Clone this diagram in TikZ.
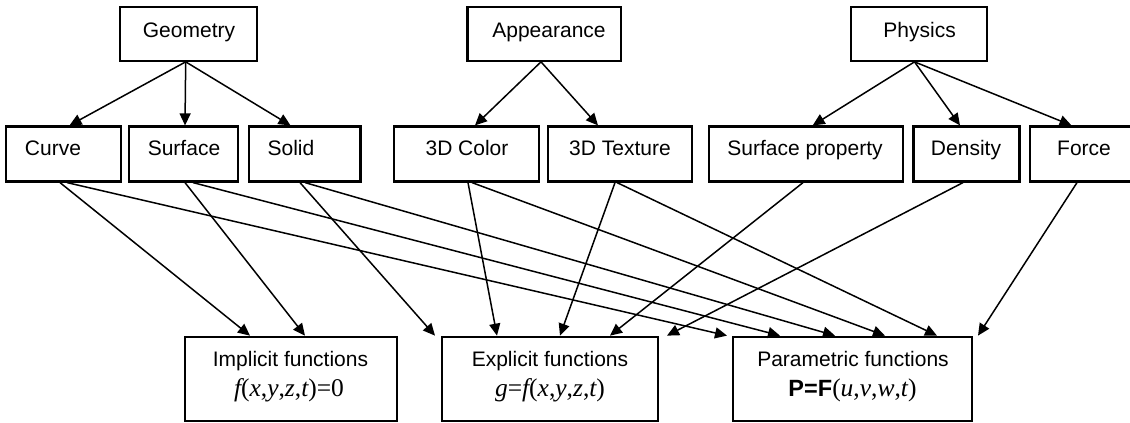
\documentclass[tikz,border=0pt]{standalone}
\usepackage{fontspec}
\setmainfont{Liberation Sans}
\newfontfamily\tmsfont{Liberation Serif}
\usetikzlibrary{arrows.meta}
\begin{document}
\begin{tikzpicture}[x=1pt,y=-1pt,
  box/.style={draw, line width=2.2pt, inner sep=0pt},
  lbl/.style={font=\fontsize{21}{25}\selectfont, inner sep=0pt, anchor=base},
  arr/.style={line width=1.5pt, -{Triangle[length=12pt,width=11pt]}}]
\useasboundingbox (0,0) rectangle (1130,423);
\clip (0,0) rectangle (1130,423);

% top level categories
\node[box, minimum width=137.3pt, minimum height=53.5pt] (geo) at (188.7,34) {};
\node[box, minimum width=153.5pt, minimum height=53.5pt] (app) at (544.3,34) {};
\node[box, minimum width=136pt, minimum height=53.5pt] (phy) at (919,34) {};
\node[lbl] (geo-t) at (189,37.3) {Geometry};
\node[lbl] (app-t) at (549,37.3) {Appearance};
\node[lbl] (phy-t) at (919.6,37.3) {Physics};

% second level
\node[box, minimum width=114.3pt, minimum height=55pt] (curve) at (63.5,154) {};
\node[box, minimum width=109pt, minimum height=55pt] (surf) at (183.8,154) {};
\node[box, minimum width=111.5pt, minimum height=55pt] (solid) at (304.8,154) {};
\node[box, minimum width=145.3pt, minimum height=55pt] (col) at (466.7,154) {};
\node[box, minimum width=143.6pt, minimum height=55pt] (tex) at (619.8,154) {};
\node[box, minimum width=194pt, minimum height=55pt] (sprop) at (806,154) {};
\node[box, minimum width=106pt, minimum height=55pt] (dens) at (966.5,154) {};
\node[box, minimum width=110pt, minimum height=55pt] (force) at (1085,154) {};
\node[lbl] (curve-t) at (53,155.5) {Curve};
\node[lbl] (surf-t) at (184,155.5) {Surface};
\node[lbl] (solid-t) at (291,155.5) {Solid};
\node[lbl] (col-t) at (467,155.5) {3D Color};
\node[lbl] (tex-t) at (620,155.5) {3D Texture};
\node[lbl] (sprop-t) at (805,155.5) {Surface property};
\node[lbl] (dens-t) at (966,155.5) {Density};
\node[lbl] (force-t) at (1084,155.5) {Force};

% function representations
\node[box, minimum width=212pt, minimum height=84.5pt] (impl) at (291,379) {};
\node[box, minimum width=216pt, minimum height=84.5pt] (expl) at (550,379) {};
\node[box, minimum width=239pt, minimum height=84.5pt] (par) at (852.5,379) {};
\node[lbl] (impl-t) at (290.5,366) {Implicit functions};
\node[lbl] (expl-t) at (550,366) {Explicit functions};
\node[lbl] (par-t) at (853,366) {Parametric functions};
\node[inner sep=0pt, anchor=base] (impl-f) at (289,396)
  {\tmsfont\fontsize{25.5}{30}\selectfont{\itshape f}({\itshape x},{\itshape y},{\itshape z},{\itshape t})=0};
\node[inner sep=0pt, anchor=base] (expl-f) at (550,396)
  {\tmsfont\fontsize{25.5}{30}\selectfont{\itshape g}={\itshape f}({\itshape x},{\itshape y},{\itshape z},{\itshape t})};
\node[inner sep=0pt, anchor=base] (par-f) at (852.5,396)
  {{\bfseries\fontsize{23.5}{28}\selectfont P=F}{\tmsfont\fontsize{25.5}{30}\selectfont({\itshape u},{\itshape v},{\itshape w},{\itshape t})}};

% category -> subcategory
\draw[arr] ([xshift=-3pt]geo.south) -- ([xshift=6pt]curve.north);
\draw[arr] ([xshift=-3pt]geo.south) -- ([xshift=1.2pt]surf.north);
\draw[arr] ([xshift=-3pt]geo.south) -- ([xshift=-14.3pt]solid.north);
\draw[arr] ([xshift=-3.3pt]app.south) -- ([xshift=8.3pt]col.north);
\draw[arr] ([xshift=-3.3pt]app.south) -- ([xshift=-21.8pt]tex.north);
\draw[arr] ([xshift=-4.5pt]phy.south) -- ([xshift=6.7pt]sprop.north);
\draw[arr] ([xshift=-4.5pt]phy.south) -- ([xshift=-6.5pt]dens.north);
\draw[arr] ([xshift=-4.5pt]phy.south) -- ([xshift=-13.5pt]force.north);

% subcategory -> function type
\draw[arr] ([xshift=-3.5pt]curve.south) -- ([xshift=-41pt]impl.north);
\draw[arr] ([xshift=3.5pt]curve.south) -- ([xshift=-125.5pt]par.north);
\draw[arr] ([xshift=1.2pt]surf.south) -- ([xshift=14pt]impl.north);
\draw[arr] ([xshift=9.2pt]surf.south) -- ([xshift=-72.5pt]par.north);
\draw[arr] ([xshift=-4.8pt]solid.south) -- ([xshift=-115pt]expl.north);
\draw[arr] ([xshift=0.2pt]solid.south) -- ([xshift=-17.5pt]par.north);
\draw[arr] ([xshift=1.3pt]col.south) -- ([xshift=-53pt]expl.north);
\draw[arr] ([xshift=5.3pt]col.south) -- ([xshift=32.5pt]par.north);
\draw[arr] ([xshift=-4.8pt]tex.south) -- ([xshift=10pt]expl.north);
\draw[arr] ([xshift=-2.8pt]tex.south) -- ([xshift=84.5pt]par.north);
\draw[arr] ([xshift=-3pt]sprop.south) -- ([xshift=60pt]expl.north);
\draw[arr] ([xshift=-3.5pt]dens.south) -- ([xshift=117pt]expl.north);
\draw[arr] ([xshift=-8pt]force.south) -- ([xshift=125.5pt]par.north);
\end{tikzpicture}
\end{document}
